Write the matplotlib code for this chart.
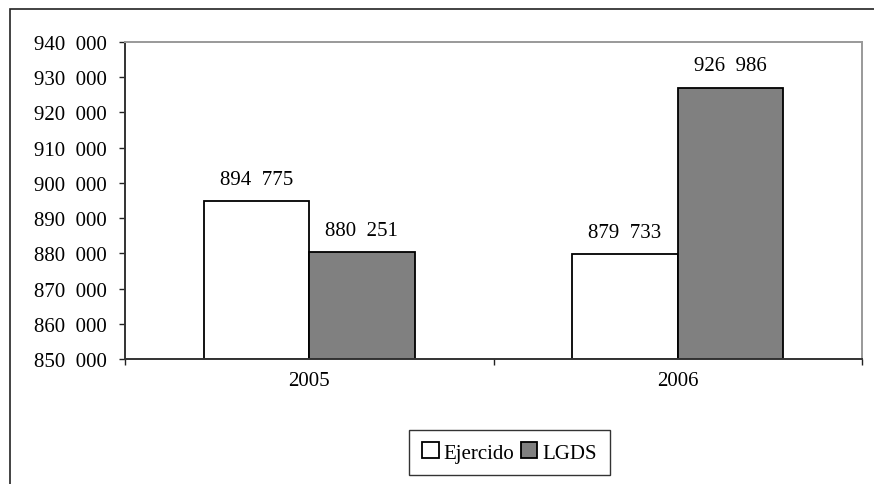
import matplotlib.pyplot as plt
import matplotlib.patches as patches
import numpy as np

anios = ['2005', '2006']
ejercido = [894775, 879733]
lgds = [880251, 926986]
yticks = [850000, 860000, 870000, 880000, 890000, 900000, 910000, 920000, 930000, 940000]

plt.rcParams['font.family'] = ['Liberation Serif', 'DejaVu Serif']
plt.rcParams['font.size'] = 15

def fmt(v):
	return '{:,}'.format(v).replace(',', '\u2002')

fig = plt.figure(figsize=(8.74, 4.85), dpi=100)
ax = fig.add_axes([125/874, 125/485, (862-125)/874, (360-43)/485])

# borde exterior (solo izquierda y arriba visibles)
borde = patches.Rectangle((10/874, -1), 2, 1 + (1 - 10/485), transform=fig.transFigure,
	fill=False, edgecolor='#222222', linewidth=1.2, clip_on=False)
fig.patches.append(borde)

x = np.arange(len(anios))
w = 2/7
b1 = ax.bar(x - w/2, [v - 850000 for v in ejercido], w, bottom=850000, color='white',
	edgecolor='black', linewidth=1.3, label='Ejercido')
b2 = ax.bar(x + w/2, [v - 850000 for v in lgds], w, bottom=850000, color='#808080',
	edgecolor='black', linewidth=1.3, label='LGDS')

for i in range(len(anios)):
	ax.annotate(fmt(ejercido[i]), (x[i] - w/2, ejercido[i]), xytext=(0, 12.5),
		textcoords='offset points', ha='center', va='baseline')
	ax.annotate(fmt(lgds[i]), (x[i] + w/2, lgds[i]), xytext=(0, 12.5),
		textcoords='offset points', ha='center', va='baseline')

ax.set_xlim(-0.5, 1.5)
ax.set_ylim(850000, 940000)
ax.set_yticks(yticks)
ax.set_yticklabels([fmt(v) for v in yticks])
ax.set_xticks([-0.5, 0.5, 1.5])
ax.set_xticklabels(['', '', ''])
ax.set_xticks(x, minor=True)
ax.set_xticklabels(anios, minor=True)
ax.tick_params(axis='x', which='minor', length=0, pad=9)
ax.tick_params(axis='x', which='major', length=4.3, width=1, color='#222222')
ax.tick_params(axis='y', length=4.3, width=1, color='#222222', pad=8.5)

for s in ['left', 'bottom']:
	ax.spines[s].set_color('#333333')
	ax.spines[s].set_linewidth(1.4)
for s in ['top', 'right']:
	ax.spines[s].set_color('#999999')
	ax.spines[s].set_linewidth(1.4)

leg = fig.legend(loc='center', bbox_to_anchor=(509.5/874, 1 - 453.5/485), ncol=2,
	frameon=True, fancybox=False, edgecolor='black', handlelength=0.8, handleheight=0.8,
	handletextpad=0.25, columnspacing=0.3, borderpad=0.6, borderaxespad=0)
leg.get_frame().set_linewidth(1.0)

fig.savefig('out.png', dpi=100)
